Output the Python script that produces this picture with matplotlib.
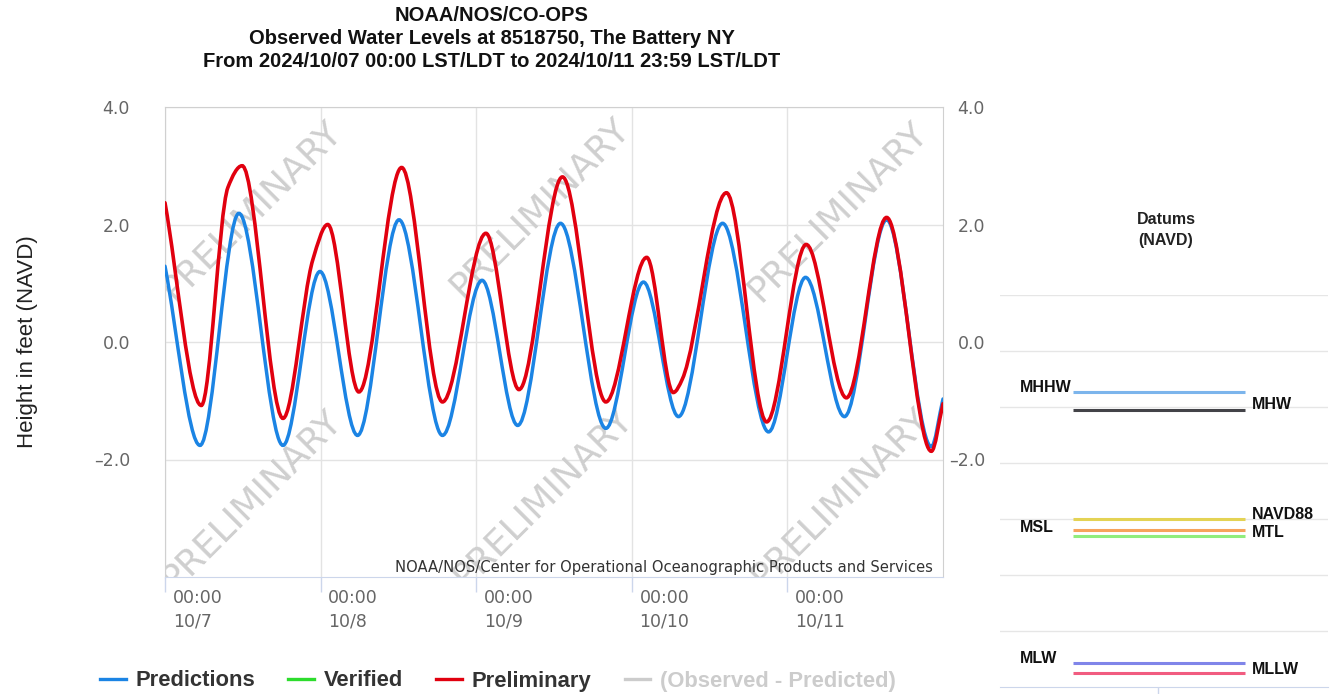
"""Observed water levels at The Battery NY, with the datums panel on the right."""

import matplotlib
import matplotlib.pyplot as plt
import numpy as np
from matplotlib.lines import Line2D
from matplotlib.patches import PathPatch
from matplotlib.path import Path

matplotlib.use("Agg")

# hours since 2024/10/07 00:00, highs / lows
PRED_HOURS = [0.0, 5.4, 11.4, 18.2, 23.9, 29.7, 36.1, 42.8, 48.9, 54.4, 61.0,
              68.0, 73.8, 79.2, 86.0, 93.1, 98.8, 104.8, 111.3, 118.2, 120.0]
PRED_FT = [1.29, -1.76, 2.19, -1.76, 1.20, -1.59, 2.08, -1.59, 1.05, -1.42, 2.02,
           -1.47, 1.02, -1.27, 2.02, -1.53, 1.10, -1.27, 2.08, -1.78, -0.97]

PRELIM_HOURS = [0.0, 5.6, 9.7, 11.9, 18.2, 22.8, 25.1, 29.9, 36.5, 42.8, 49.5,
                54.6, 61.3, 68.0, 74.3, 78.4, 79.8, 86.6, 92.8, 98.9, 105.1,
                111.3, 118.2, 120.0]
PRELIM_FT = [2.37, -1.08, 2.63, 3.00, -1.30, 1.40, 2.00, -0.85, 2.97, -1.02, 1.85,
             -0.81, 2.81, -1.02, 1.44, -0.86, -0.63, 2.54, -1.36, 1.66, -0.95,
             2.12, -1.86, -1.05]

DAY_TICKS = [0, 24, 48, 72, 96]
DAY_LABELS = ["10/7", "10/8", "10/9", "10/10", "10/11"]
Y_TICKS = [-2.0, 0.0, 2.0, 4.0]

DATUM_NAMES = ["MHHW", "MHW", "NAVD88", "MTL", "MSL", "MLW", "MLLW"]
DATUM_FT = [2.27, 1.95, 0.00, -0.20, -0.30, -2.57, -2.75]

TITLE_LINES = [
    "NOAA/NOS/CO-OPS",
    "Observed Water Levels at 8518750, The Battery NY",
    "From 2024/10/07 00:00 LST/LDT to 2024/10/11 23:59 LST/LDT",
]

BLUE = "#1b84e4"
RED = "#e1000f"
GREEN = "#2ddc2d"
LIGHT = "#cccccc"
DATUM_COLORS = ["#7cb5ec", "#434348", "#e4d354", "#f7a35c", "#90ed7d", "#8085e9", "#f15c80"]
DATUM_SIDE = ["left", "right", "right", "right", "left", "left", "right"]
DATUM_DY = [0, 1, 0, -7, 4, 0, -1]  # label baseline offset, px

W, H = 1330, 694


def smooth_path(x, y):
    """Bezier path through the read points (flat at highs and lows)."""
    x = np.asarray(x, float)
    y = np.asarray(y, float)
    n = len(x)
    sec = np.diff(y) / np.diff(x)
    m = np.zeros(n)
    m[0], m[-1] = sec[0], sec[-1]
    for i in range(1, n - 1):
        if sec[i - 1] * sec[i] > 0:
            m[i] = 2.0 / (1.0 / sec[i - 1] + 1.0 / sec[i])
    verts = [(x[0], y[0])]
    codes = [Path.MOVETO]
    for i in range(n - 1):
        d = (x[i + 1] - x[i]) / 3.0
        verts += [(x[i] + d, y[i] + m[i] * d),
                  (x[i + 1] - d, y[i + 1] - m[i + 1] * d),
                  (x[i + 1], y[i + 1])]
        codes += [Path.CURVE4] * 3
    return Path(verts, codes)


def px_box(left, top, right, bottom):
    return [left / W, 1 - bottom / H, (right - left) / W, (bottom - top) / H]


fig = plt.figure(figsize=(W / 100, H / 100), dpi=100)

for line, base in zip(TITLE_LINES, [21, 44, 67]):
    fig.text(492 / W, 1 - base / H, line, ha="center", va="baseline",
             fontsize=14.5, fontweight="bold", family="Liberation Sans", color="#111111")

fig.text(27 / W, 1 - 342 / H, "Height in feet (NAVD)", rotation=90, ha="center",
         va="center", fontsize=16, family="Liberation Sans", color="#222222")

# main chart
ax = fig.add_axes(px_box(165, 107, 943, 577))
ax.set_xlim(0, 120)
ax.set_ylim(-4, 4)

ax.add_patch(PathPatch(smooth_path(PRED_HOURS, PRED_FT), fill=False,
                       edgecolor=BLUE, lw=2.5, zorder=3, capstyle="round"))
ax.add_patch(PathPatch(smooth_path(PRELIM_HOURS, PRELIM_FT), fill=False,
                       edgecolor=RED, lw=2.6, zorder=4, capstyle="round"))

for xf, yf in [(0.112, 0.779), (0.482, 0.785), (0.865, 0.777),
               (0.112, 0.164), (0.486, 0.168), (0.868, 0.170)]:
    ax.text(xf, yf, "PRELIMINARY", transform=ax.transAxes, rotation=45,
            rotation_mode="anchor", ha="center", va="center", fontsize=26,
            family="DejaVu Sans", color="#cfcfcf", zorder=2, clip_on=True)

ax.text(0.9867, 0.0106, "NOAA/NOS/Center for Operational Oceanographic Products and Services",
        transform=ax.transAxes, ha="right", va="baseline", fontsize=10.6,
        family="DejaVu Sans", color="#333333", zorder=5)

ax.set_xticks(DAY_TICKS)
ax.set_yticks(Y_TICKS)
ax.set_yticklabels([f"{v:.1f}".replace("-", "\u2013") for v in Y_TICKS],
                   family="DejaVu Sans")
ax.grid(True, color="#e3e3e3", lw=1, zorder=0)
ax.set_axisbelow(True)
ax.tick_params(axis="x", length=11, width=1, color="#ccd6eb", labelbottom=False)
ax.tick_params(axis="y", length=0, labelsize=12.5, labelcolor="#666666", labelright=True)
for tick in ax.yaxis.get_major_ticks():
    tick.label2.set_horizontalalignment("right")
    tick.set_pad(25.2)
    tick.tick2line.set_visible(False)
for tick in ax.yaxis.get_major_ticks():
    tick.label2.set_x(1.0)
for side in ["left", "top", "right"]:
    ax.spines[side].set_color("#d0d0d0")
ax.spines["bottom"].set_color("#ccd6eb")

for hour, day in zip(DAY_TICKS, DAY_LABELS):
    for text, dy in [("00:00", -18.5), (day, -35.8)]:
        ax.annotate(text, xy=(hour, 0), xycoords=("data", "axes fraction"),
                    xytext=(5.5, dy), textcoords="offset points", ha="left",
                    va="baseline", fontsize=12.5, family="DejaVu Sans",
                    color="#666666", annotation_clip=False)

# right-hand labels sit further out and end flush right
ax_r = ax.twinx()
ax_r.set_ylim(ax.get_ylim())
ax_r.set_yticks(Y_TICKS)
ax_r.set_yticklabels([f"{v:.1f}".replace("-", "\u2013") for v in Y_TICKS],
                     family="DejaVu Sans", ha="right")
ax_r.tick_params(axis="y", length=0, labelsize=12.5, labelcolor="#666666", pad=30.2)
ax_r.spines[:].set_visible(False)
ax.tick_params(axis="y", labelright=False)

handles = [Line2D([], [], color=BLUE, lw=2.4),
           Line2D([], [], color=GREEN, lw=2.4),
           Line2D([], [], color=RED, lw=2.4),
           Line2D([], [], color=LIGHT, lw=2.4)]
labels = ["Predictions", "Verified", "Preliminary", "(Observed - Predicted)"]
leg = fig.legend(handles, labels, loc="center", bbox_to_anchor=(498 / W, 1 - 681 / H),
                 ncol=4, frameon=False, handlelength=1.18, handletextpad=0.45,
                 columnspacing=1.5, borderaxespad=0,
                 prop={"family": "Liberation Sans", "weight": "bold", "size": 15.8})
for txt, col in zip(leg.get_texts(), ["#333333", "#333333", "#333333", LIGHT]):
    txt.set_color(col)

# datums panel
dax = fig.add_axes(px_box(1000, 295, 1328, 687))
dax.set_xlim(0, 1)
dax.set_ylim(-3, 4)
dax.set_yticks(range(-2, 5))
dax.yaxis.grid(True, color="#e6e6e6", lw=1)
dax.set_xticks([0.482])
dax.tick_params(axis="x", length=8, width=1, color="#ccd6eb", labelbottom=False)
dax.tick_params(axis="y", length=0, labelleft=False)
for side in ["left", "top", "right"]:
    dax.spines[side].set_visible(False)
dax.spines["bottom"].set_color("#ccd6eb")

x0, x1 = 73 / 328, 245 / 328
dax.hlines(DATUM_FT, x0, x1, colors=DATUM_COLORS, lw=2.2, zorder=3)
for name, val, side, dy in zip(DATUM_NAMES, DATUM_FT, DATUM_SIDE, DATUM_DY):
    xl = 20 / 328 if side == "left" else 252 / 328
    dax.annotate(name, xy=(xl, val), xytext=(0, dy * 0.72), textcoords="offset points",
                 ha="left", va="baseline", fontsize=11.5, fontweight="bold",
                 family="Liberation Sans", color="#111111", annotation_clip=False)

for text, yc in [("Datums", 220), ("(NAVD)", 241)]:
    fig.text(1166 / W, 1 - yc / H, text, ha="center", va="center", fontsize=11.5,
             fontweight="bold", family="Liberation Sans", color="#222222")

fig.savefig("out.png", dpi=100)
